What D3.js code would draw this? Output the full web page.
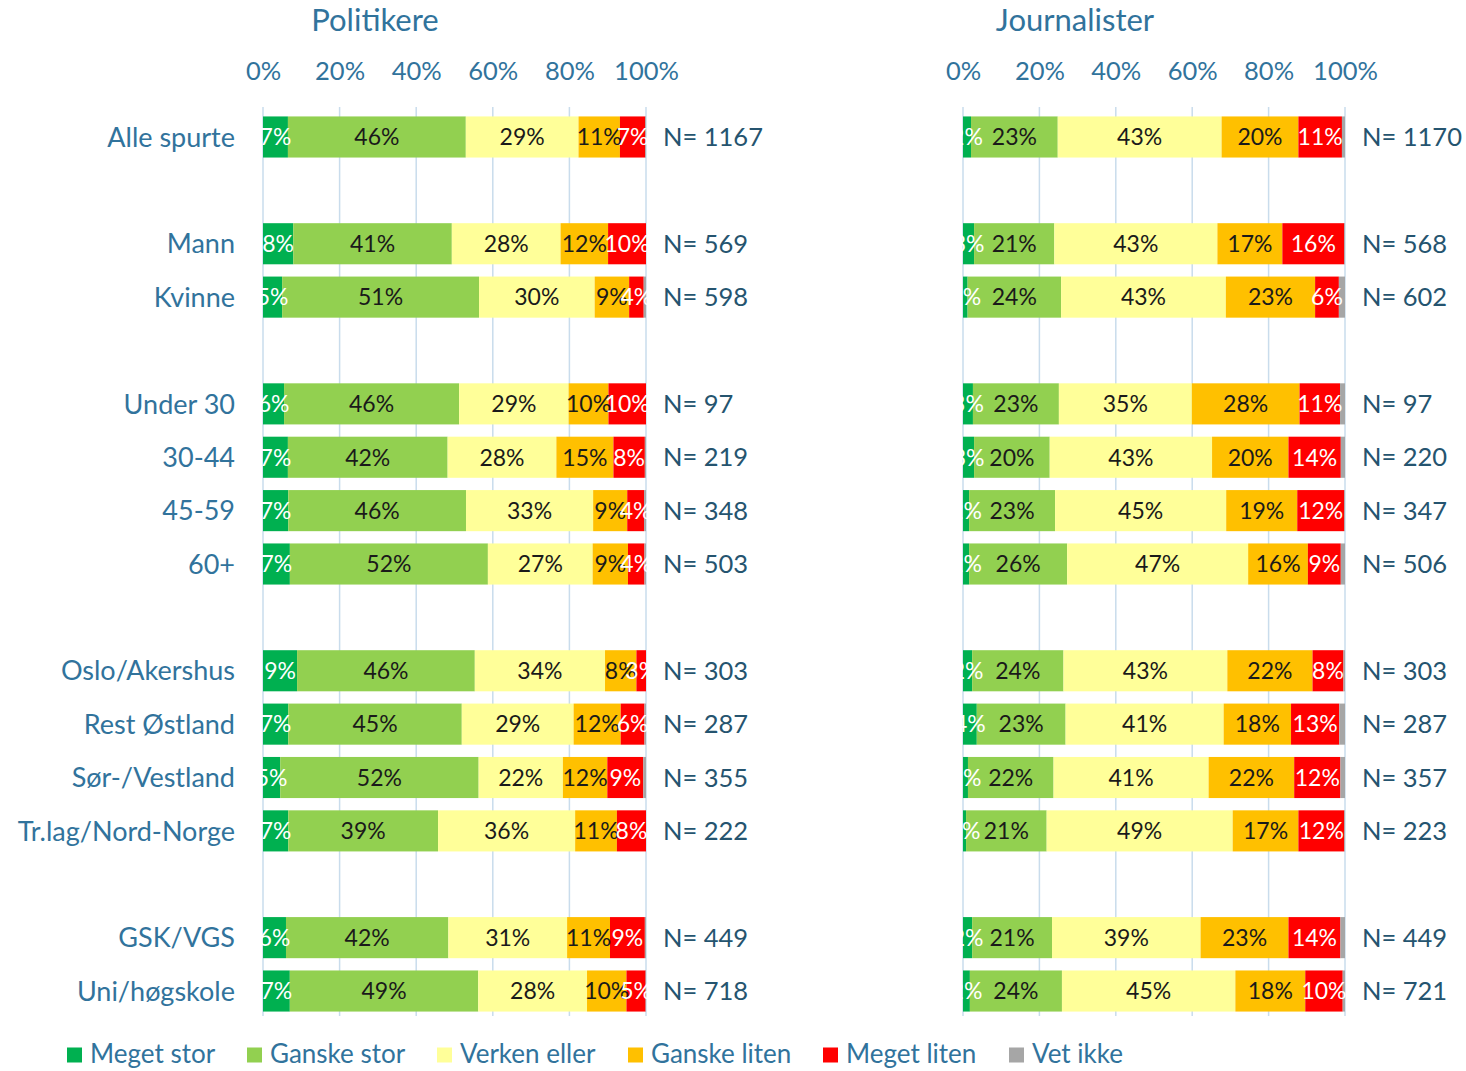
<!DOCTYPE html>
<html>
<head>
<meta charset="utf-8">
<script src="https://cdn.jsdelivr.net/npm/d3@7"></script>
<style>
  body { margin: 0; background: #fff; }
  svg { display: block; font-family: Lato, "Open Sans", sans-serif; }
</style>
</head>
<body>
<div id="wrapper"></div>
<script>
// rows (null = empty spacer slot)
const rows = ["Alle spurte", null, "Mann", "Kvinne", null, "Under 30", "30-44", "45-59", "60+", null,
  "Oslo/Akershus", "Rest Østland", "Sør-/Vestland", "Tr.lag/Nord-Norge", null, "GSK/VGS", "Uni/høgskole"]
const categories = rows.filter(d => d !== null)

const series = ["Meget stor", "Ganske stor", "Verken eller", "Ganske liten", "Meget liten", "Vet ikke"]
const colors = ["#00b050", "#92d050", "#ffff99", "#ffc000", "#ff0000", "#a6a6a6"]
const labelColors = ["#ffffff", "#1a1a1a", "#1a1a1a", "#1a1a1a", "#ffffff", null]

const panelTitles = ["Politikere", "Journalister"]
const tickValues = [0, 0.2, 0.4, 0.6, 0.8, 1]

// percentages per category, order as series
const politikere = [
  [6.5, 46.4, 29.4, 10.8, 6.6, 0.2],
  [7.9, 41.4, 28.4, 12.4, 9.9, 0],
  [5.0, 51.4, 30.2, 9.0, 3.8, 0.6],
  [5.5, 45.7, 28.6, 10.4, 9.8, 0],
  [6.5, 41.7, 28.4, 14.9, 8.2, 0.3],
  [6.6, 46.4, 33.2, 8.9, 4.4, 0.5],
  [7.0, 51.6, 27.3, 9.2, 4.3, 0.4],
  [8.9, 46.4, 34.0, 8.2, 2.5, 0],
  [6.6, 45.3, 29.2, 12.3, 6.2, 0.4],
  [4.5, 51.8, 22.0, 11.6, 9.4, 0.7],
  [6.6, 39.1, 35.8, 10.9, 7.6, 0],
  [6.0, 42.4, 31.0, 11.2, 9.1, 0.3],
  [7.0, 49.2, 28.4, 10.3, 5.0, 0.1],
]
const journalister = [
  [2.1, 22.7, 42.9, 20.1, 11.4, 0.8],
  [2.9, 21.0, 42.7, 17.0, 16.2, 0.2],
  [1.2, 24.4, 43.0, 23.3, 6.2, 1.6],
  [2.6, 22.5, 34.8, 28.2, 10.6, 1.3],
  [2.9, 19.8, 42.5, 20.0, 13.7, 1.1],
  [1.6, 22.5, 44.8, 18.6, 12.3, 0.2],
  [1.6, 25.6, 47.3, 15.6, 8.6, 1.1],
  [2.4, 23.9, 42.9, 22.3, 8.1, 0.4],
  [3.6, 23.2, 41.3, 17.6, 12.6, 1.5],
  [1.3, 22.4, 40.6, 22.4, 12.1, 1.2],
  [0.8, 21.1, 48.7, 17.2, 12.0, 0.2],
  [2.4, 20.9, 38.9, 23.0, 13.6, 1.2],
  [1.8, 24.1, 45.4, 18.3, 9.8, 0.6],
]
const nPolitikere = [1167, 569, 598, 97, 219, 348, 503, 303, 287, 355, 222, 449, 718]
const nJournalister = [1170, 568, 602, 97, 220, 347, 506, 303, 287, 357, 223, 449, 721]

const width = 1466
const height = 1071
const textBlue = "#31739c"
const nBlue = "#25546f"
const gridColor = "#c9dcec"

const svg = d3.select("#wrapper").append("svg")
  .attr("width", width)
  .attr("height", height)

const yScale = d3.scaleBand()
  .domain(rows.map((d, i) => i))
  .range([110.3, 1017.7])
  .paddingInner(0.23)
  .paddingOuter(0.115)

const rowIndex = name => rows.indexOf(name)

const panels = [
  {title: panelTitles[0], data: politikere, n: nPolitikere, x0: 263, x1: 646},
  {title: panelTitles[1], data: journalister, n: nJournalister, x0: 963, x1: 1345},
]

panels.forEach((p, pi) => {
  const xScale = d3.scaleLinear().domain([0, 1]).range([p.x0, p.x1])
  const g = svg.append("g")

  // title (sits left of the bar centre, like the original)
  g.append("text")
    .attr("x", p.x0 + 112)
    .attr("y", 31)
    .attr("text-anchor", "middle")
    .attr("fill", textBlue)
    .style("font-size", "31px")
    .text(p.title)

  // gridlines
  g.append("g")
    .selectAll("line")
    .data(tickValues)
    .join("line")
      .attr("x1", d => xScale(d))
      .attr("x2", d => xScale(d))
      .attr("y1", 107)
      .attr("y2", 1016)
      .attr("stroke", gridColor)
      .attr("stroke-width", 1.5)

  // top axis
  const axis = g.append("g")
    .attr("transform", "translate(0,108)")
    .call(d3.axisTop(xScale).tickValues(tickValues).tickFormat(d3.format(".0%")).tickSize(0).tickPadding(28))
  axis.select(".domain").remove()
  axis.selectAll("text")
    .attr("fill", textBlue)
    .style("font-size", "25.5px")
    .style("font-family", "Lato, 'Open Sans', sans-serif")

  // stacked bars
  categories.forEach((cat, ci) => {
    const vals = p.data[ci]
    const total = d3.sum(vals)
    const y = yScale(rowIndex(cat))
    const bh = yScale.bandwidth()
    let cum = 0
    const segs = vals.map((v, si) => {
      const s = {series: si, v: v, start: cum / total, end: (cum + v) / total}
      cum += v
      return s
    })

    const row = g.append("g")
    row.selectAll("rect")
      .data(segs.filter(s => s.v > 0))
      .join("rect")
        .attr("x", s => xScale(s.start))
        .attr("y", y)
        .attr("width", s => xScale(s.end) - xScale(s.start))
        .attr("height", bh)
        .attr("fill", s => colors[s.series])

    row.selectAll("text.lbl")
      .data(segs.filter(s => labelColors[s.series] && s.v > 0))
      .join("text")
        .attr("class", "lbl")
        .attr("x", s => (xScale(s.start) + xScale(s.end)) / 2)
        .attr("y", y + bh / 2)
        .attr("dy", "0.36em")
        .attr("text-anchor", "middle")
        .attr("fill", s => labelColors[s.series])
        .style("font-size", "23px")
        .text(s => Math.round(s.v) + "%")

    // N label
    g.append("text")
      .attr("x", p.x1 + 17)
      .attr("y", y + bh / 2)
      .attr("dy", "0.36em")
      .attr("fill", nBlue)
      .style("font-size", "25.5px")
      .text("N= " + p.n[ci])

    // category label only on first panel
    if (pi === 0) {
      g.append("text")
        .attr("x", 235)
        .attr("y", y + bh / 2)
        .attr("dy", "0.36em")
        .attr("text-anchor", "end")
        .attr("fill", textBlue)
        .style("font-size", "27px")
        .text(cat)
    }
  })
})

// legend
const legendX = [67, 247, 437, 628, 823, 1009]
const legend = svg.append("g").attr("transform", "translate(0,1054)")
series.forEach((s, i) => {
  legend.append("rect")
    .attr("x", legendX[i])
    .attr("y", -6.5)
    .attr("width", 15)
    .attr("height", 15)
    .attr("fill", colors[i])
  legend.append("text")
    .attr("x", legendX[i] + 23)
    .attr("y", 0)
    .attr("dy", "0.36em")
    .attr("fill", textBlue)
    .style("font-size", "26px")
    .text(s)
})
</script>
</body>
</html>
